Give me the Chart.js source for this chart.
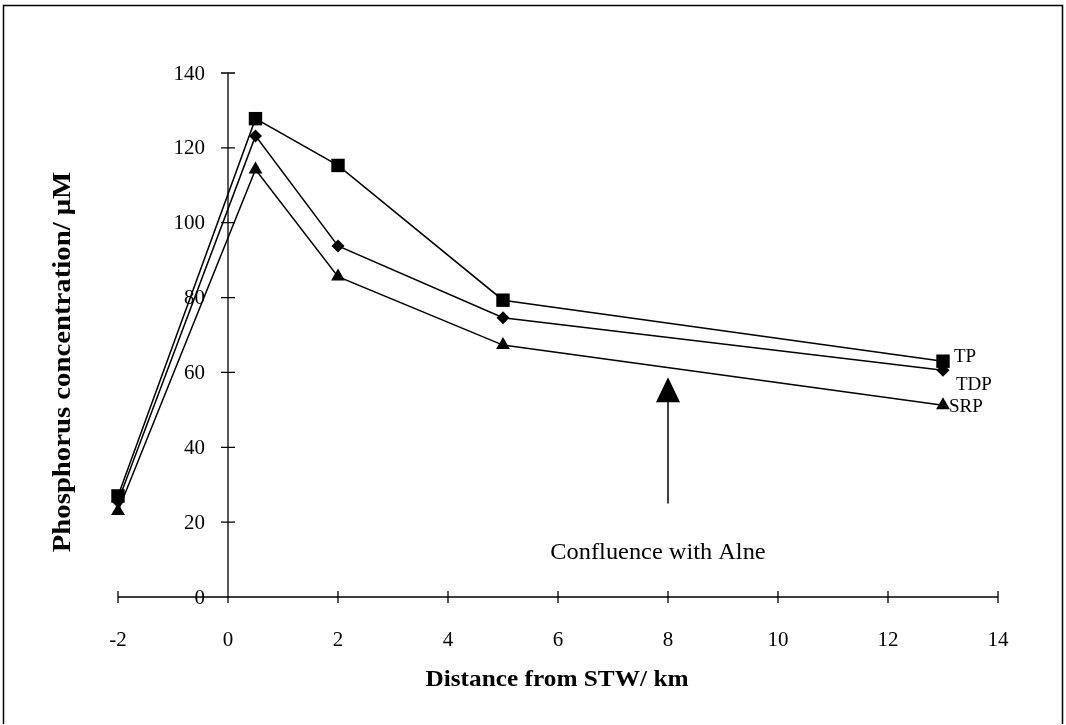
<!DOCTYPE html>
<html>
<head>
<meta charset="utf-8">
<script src="https://cdn.jsdelivr.net/npm/chart.js@4/dist/chart.umd.min.js"></script>
<style>
  html, body { margin: 0; padding: 0; background: #fff; }
  #wrap { width: 1066px; height: 725px; }
</style>
</head>
<body>
<div id="wrap"><canvas id="phChart" width="1066" height="725"></canvas></div>
<script>
// distance from STW (km) and phosphorus concentrations (uM)
const distances = [-2, 0.5, 2, 5, 13];
const tpValues = [27, 127.8, 115.3, 79.3, 63];
const tdpValues = [25.5, 123.2, 93.8, 74.6, 60.6];
const srpValues = [23, 114.2, 85.6, 67.3, 51.2];
const seriesNames = ["TP", "TDP", "SRP"];
const xTicks = [-2, 0, 2, 4, 6, 8, 10, 12, 14];
const yTicks = [0, 20, 40, 60, 80, 100, 120, 140];

// arrow marking the confluence
const arrowX = 8;
const arrowFrom = 25;
const arrowTo = 58.7;
const arrowText = "Confluence with Alne";

const serif = "'Liberation Serif', 'Times New Roman', serif";

const toPoints = (vals) => distances.map((d, i) => ({ x: d, y: vals[i] }));

const makeSet = (label, vals, style, radius) => ({
    label: label,
    data: toPoints(vals),
    borderColor: "#000",
    backgroundColor: "#000",
    borderWidth: 1.5,
    pointStyle: style,
    pointRadius: radius,
    pointHoverRadius: radius,
    pointBorderWidth: 0,
    tension: 0,
    clip: false,
});

// text slightly stretched sideways, like the scanned original
const wideText = (ctx, text, x, y, stretch) => {
    ctx.save();
    ctx.translate(x, y);
    ctx.scale(stretch, 1);
    ctx.fillText(text, 0, 0);
    ctx.restore();
};

const axesPlugin = {
    id: "axesPlugin",
    afterDatasetsDraw(chart) {
        const { ctx, scales } = chart;
        const xs = scales.x, ys = scales.y;
        const y0 = ys.getPixelForValue(0);
        const x0 = xs.getPixelForValue(0);
        ctx.save();
        ctx.strokeStyle = "#000";
        ctx.fillStyle = "#000";
        ctx.lineWidth = 1.3;
        ctx.beginPath();
        ctx.moveTo(xs.getPixelForValue(xTicks[0]), y0);
        ctx.lineTo(xs.getPixelForValue(xTicks[xTicks.length - 1]), y0);
        xTicks.forEach((t) => {
            const px = xs.getPixelForValue(t);
            ctx.moveTo(px, y0 - 6);
            ctx.lineTo(px, y0 + 6);
        });
        ctx.moveTo(x0, y0);
        ctx.lineTo(x0, ys.getPixelForValue(yTicks[yTicks.length - 1]));
        yTicks.forEach((t) => {
            const py = ys.getPixelForValue(t);
            ctx.moveTo(x0 - 7, py);
            ctx.lineTo(x0 + 7, py);
        });
        ctx.stroke();

        // y tick labels, left of the axis at x = 0
        ctx.font = "21px " + serif;
        ctx.textAlign = "right";
        ctx.textBaseline = "middle";
        yTicks.forEach((t) => {
            ctx.fillText(String(t), x0 - 23, ys.getPixelForValue(t) + 1);
        });

        // arrow
        const ax = xs.getPixelForValue(arrowX);
        const aBottom = ys.getPixelForValue(arrowFrom);
        const aTip = ys.getPixelForValue(arrowTo);
        ctx.lineWidth = 1.5;
        ctx.beginPath();
        ctx.moveTo(ax, aBottom);
        ctx.lineTo(ax, aTip + 22);
        ctx.stroke();
        ctx.beginPath();
        ctx.moveTo(ax, aTip);
        ctx.lineTo(ax - 12, aTip + 25);
        ctx.lineTo(ax + 12, aTip + 25);
        ctx.closePath();
        ctx.fill();

        ctx.font = "23px " + serif;
        ctx.textAlign = "center";
        wideText(ctx, arrowText, 658, 553, 1.06);

        // series labels at last point
        ctx.font = "19px " + serif;
        ctx.textAlign = "left";
        const offsets = [[11, -4], [13, 15], [6, 2]];
        chart.data.datasets.forEach((ds, i) => {
            const meta = chart.getDatasetMeta(i);
            const p = meta.data[meta.data.length - 1];
            ctx.fillText(seriesNames[i], p.x + offsets[i][0], p.y + offsets[i][1]);
        });

        // axis titles
        ctx.font = "bold 23px " + serif;
        ctx.textAlign = "center";
        wideText(ctx, "Distance from STW/ km", 557, 680, 1.1);

        ctx.font = "bold 25px " + serif;
        ctx.translate(64, 362);
        ctx.rotate(-Math.PI / 2);
        wideText(ctx, "Phosphorus concentration/ \u03bcM", 0, 0, 1.15);
        ctx.restore();

        // page frame
        ctx.save();
        ctx.strokeStyle = "#000";
        ctx.lineWidth = 1.5;
        ctx.beginPath();
        ctx.moveTo(3.5, 724);
        ctx.lineTo(3.5, 5.5);
        ctx.lineTo(1062.5, 5.5);
        ctx.lineTo(1062.5, 724);
        ctx.stroke();
        ctx.restore();
    },
};

const ctx = document.getElementById("phChart").getContext("2d");
new Chart(ctx, {
    type: "line",
    data: {
        datasets: [
            makeSet(seriesNames[0], tpValues, "rect", 9.5),
            makeSet(seriesNames[1], tdpValues, "rectRot", 6.5),
            makeSet(seriesNames[2], srpValues, "triangle", 8),
        ],
    },
    options: {
        responsive: false,
        animation: false,
        layout: { padding: { left: 118, right: 68, top: 73, bottom: 0 } },
        plugins: {
            legend: { display: false },
            tooltip: { enabled: false },
        },
        scales: {
            x: {
                type: "linear",
                min: -2,
                max: 14,
                afterBuildTicks: (scale) => {
                    scale.ticks = xTicks.map((v) => ({ value: v }));
                },
                grid: { display: false, drawTicks: false },
                border: { display: false },
                ticks: {
                    color: "#000",
                    padding: 31,
                    font: { family: serif, size: 21 },
                },
                afterFit: (scale) => {
                    scale.height = 128;
                },
            },
            y: {
                type: "linear",
                position: { x: 0 },
                min: 0,
                max: 140,
                afterBuildTicks: (scale) => {
                    scale.ticks = yTicks.map((v) => ({ value: v }));
                },
                grid: { display: false, drawTicks: false },
                border: { display: false },
                ticks: { display: false },
            },
        },
    },
    plugins: [axesPlugin],
});
</script>
</body>
</html>
